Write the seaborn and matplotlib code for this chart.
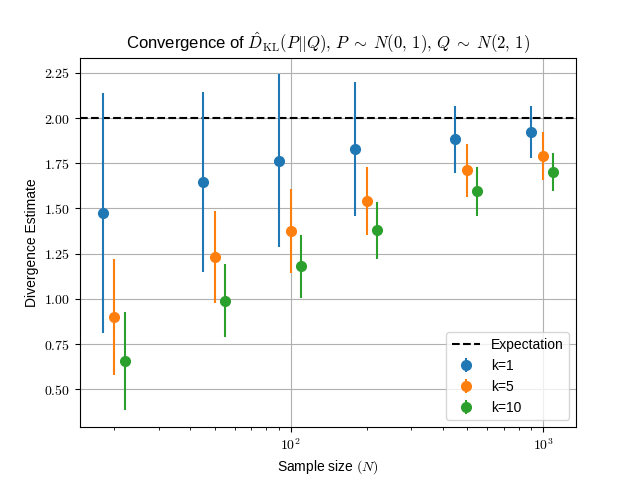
import numpy as np
import matplotlib
matplotlib.use('Agg')
import matplotlib.pyplot as plt
from matplotlib.ticker import FuncFormatter
import seaborn as sns

sample_sizes = np.array([20, 50, 100, 200, 500, 1000])
k_values = [1, 5, 10]
x_shift = [0.9, 1.0, 1.1]

mean_k1 = [1.474, 1.645, 1.763, 1.828, 1.882, 1.922]
err_k1 = [0.664, 0.498, 0.478, 0.370, 0.185, 0.143]
mean_k5 = [0.900, 1.231, 1.375, 1.540, 1.712, 1.790]
err_k5 = [0.323, 0.254, 0.232, 0.188, 0.146, 0.132]
mean_k10 = [0.656, 0.991, 1.180, 1.380, 1.596, 1.701]
err_k10 = [0.272, 0.201, 0.175, 0.157, 0.135, 0.105]

means = [mean_k1, mean_k5, mean_k10]
errs = [err_k1, err_k5, err_k10]
expectation = 2.0

sns.reset_orig()
plt.rcParams['font.family'] = ['Liberation Sans', 'DejaVu Sans']
plt.rcParams['mathtext.fontset'] = 'cm'

palette = sns.color_palette('tab10', 3)

fig, ax = plt.subplots(figsize=(6.4, 4.8), dpi=100)

ax.axhline(expectation, color='k', linestyle='--', linewidth=1.5, label='Expectation')
for k, m, e, s, c in zip(k_values, means, errs, x_shift, palette):
    ax.errorbar(sample_sizes * s, m, yerr=e, fmt='o', color=c,
                markersize=7, elinewidth=1.5, label=f'k={k}')

ax.set_xscale('log')
ax.xaxis.set_major_formatter(FuncFormatter(lambda v, p: r'$10^{%d}$' % round(np.log10(v))))
ax.yaxis.set_major_formatter(FuncFormatter(lambda v, p: r'$%.2f$' % v))
ax.tick_params(labelsize=10)

ax.set_title(r'Convergence of $\hat{D}_{\rm KL}(P||Q),\, P \;\sim\; N(0,\,1),\, Q \;\sim\; N(2,\,1)$',
             fontsize=12)
ax.set_xlabel(r'Sample size $(N)$')
ax.set_ylabel('Divergence Estimate')
ax.grid(True)
ax.legend(loc='lower right')

fig.savefig('out.png', dpi=100)
